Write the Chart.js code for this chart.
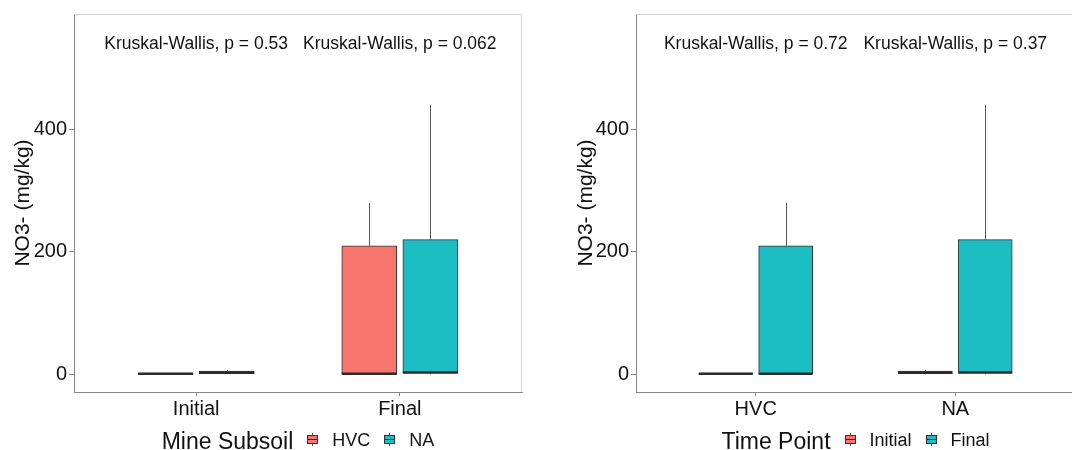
<!DOCTYPE html>
<html>
<head>
<meta charset="utf-8">
<script src="https://cdn.jsdelivr.net/npm/chart.js@4.4.0/dist/chart.umd.min.js"></script>
<style>
html, body { margin: 0; padding: 0; background: #fff; overflow: hidden; width: 1072px; height: 450px; }
#left { position: absolute; left: 0; top: 0; width: 540px; height: 450px; }
#right { position: absolute; left: 540px; top: 0; width: 560px; height: 450px; }
</style>
</head>
<body>
<div id="left"><canvas id="bySubsoil"></canvas></div>
<div id="right"><canvas id="byTime"></canvas></div>
<script>
var timePoints = ["Initial", "Final"];
var subsoils = ["HVC", "NA"];

// box stats, one value per time point (Initial, Final)
var hvcMin = [0, 0];
var hvcQ1 = [0, 0];
var hvcMedian = [1, 1];
var hvcQ3 = [2, 210];
var hvcMax = [2, 280];

var naMin = [0, 0];
var naQ1 = [1, 2];
var naMedian = [3, 3];
var naQ3 = [5, 220];
var naMax = [7, 440];

var pByTime = ["0.53", "0.062"];
var pBySubsoil = ["0.72", "0.37"];
var yTicks = [0, 200, 400];

var red = "#F8766D";
var teal = "#1CBEC4";
var font = "'Liberation Sans', Arial, sans-serif";
var textColor = "#111";

function series(label, color, xs, mins, q1s, meds, q3s, maxs) {
    return {
        label: label,
        backgroundColor: color,
        borderColor: "#333",
        borderWidth: 1,
        borderSkipped: false,
        data: xs.map(function (x, i) { return { x: x, y: [q1s[i], q3s[i]] }; }),
        mins: mins, meds: meds, q3s: q3s, q1s: q1s, maxs: maxs
    };
}

function line(ctx, x1, y1, x2, y2) {
    ctx.beginPath();
    ctx.moveTo(x1, y1);
    ctx.lineTo(x2, y2);
    ctx.stroke();
}

// whiskers, medians, panel border, p-values and the inline legend
var boxExtras = {
    id: "boxExtras",
    afterDatasetsDraw: function (chart) {
        var ctx = chart.ctx, y = chart.scales.y;
        chart.data.datasets.forEach(function (ds, di) {
            chart.getDatasetMeta(di).data.forEach(function (bar, i) {
                var x = Math.round(bar.x) + 0.5, half = bar.width / 2;
                ctx.save();
                ctx.strokeStyle = "#555";
                ctx.lineWidth = 1;
                if (ds.maxs[i] > ds.q3s[i]) line(ctx, x, y.getPixelForValue(ds.q3s[i]), x, y.getPixelForValue(ds.maxs[i]));
                if (ds.mins[i] < ds.q1s[i]) line(ctx, x, y.getPixelForValue(ds.q1s[i]), x, y.getPixelForValue(ds.mins[i]));
                ctx.strokeStyle = "#2a2a2a";
                ctx.lineWidth = 2.5;
                var ym = y.getPixelForValue(ds.meds[i]);
                line(ctx, bar.x - half, ym, bar.x + half, ym);
                ctx.restore();
            });
        });
    },
    afterDraw: function (chart, args, opts) {
        var ctx = chart.ctx, a = chart.chartArea;
        ctx.save();
        ctx.strokeStyle = "#d4d4d4";
        ctx.lineWidth = 1;
        ctx.beginPath();
        ctx.moveTo(a.left, a.top + 0.5);
        ctx.lineTo(a.right - 0.5, a.top + 0.5);
        ctx.lineTo(a.right - 0.5, a.bottom);
        ctx.stroke();

        // p-values above each group
        ctx.fillStyle = textColor;
        ctx.font = "17.5px " + font;
        ctx.textAlign = "center";
        ctx.textBaseline = "middle";
        opts.pValues.forEach(function (p, i) {
            ctx.fillText("Kruskal-Wallis, p = " + p, chart.scales.x.getPixelForValue(i + 1), chart.scales.y.getPixelForValue(539));
        });

        // legend: title then keys inline
        ctx.textAlign = "left";
        ctx.textBaseline = "alphabetic";
        ctx.font = "23px " + font;
        var titleW = ctx.measureText(opts.legendTitle).width;
        ctx.font = "18px " + font;
        var widths = opts.legendLabels.map(function (t) { return ctx.measureText(t).width; });
        var total = titleW;
        widths.forEach(function (w) { total += 14 + 10 + 15 + w; });
        var x = (a.left + a.right) / 2 - total / 2;
        ctx.font = "23px " + font;
        ctx.fillText(opts.legendTitle, x, 449);
        x += titleW;
        ctx.font = "18px " + font;
        opts.legendLabels.forEach(function (t, i) {
            x += 14;
            var kx = Math.round(x) + 0.5;
            ctx.strokeStyle = "#555";
            line(ctx, kx + 5, 433, kx + 5, 446);
            ctx.fillStyle = opts.legendColors[i];
            ctx.fillRect(kx, 435.5, 10, 8);
            ctx.strokeStyle = "#333";
            ctx.strokeRect(kx, 435.5, 10, 8);
            ctx.strokeStyle = "#2a2a2a";
            line(ctx, kx, 439.5, kx + 10, 439.5);
            x += 10 + 15;
            ctx.fillStyle = textColor;
            ctx.fillText(t, x, 446);
            x += widths[i];
        });
        ctx.restore();
    }
};

function makeChart(id, cats, datasets, opts, yWidth, titlePad, padRight, barW) {
    return new Chart(document.getElementById(id), {
        type: "bar",
        data: { datasets: datasets },
        plugins: [boxExtras],
        options: {
            responsive: true,
            maintainAspectRatio: false,
            animation: false,
            layout: { padding: { top: 13, right: padRight, left: 0, bottom: 0 } },
            datasets: { bar: { grouped: false, barThickness: barW } },
            plugins: {
                legend: { display: false },
                tooltip: { enabled: false },
                boxExtras: opts
            },
            scales: {
                x: {
                    type: "linear",
                    min: 0.4,
                    max: 2.6,
                    offset: false,
                    afterBuildTicks: function (s) { s.ticks = [{ value: 1 }, { value: 2 }]; },
                    afterFit: function (s) { s.height = 58; },
                    ticks: {
                        callback: function (v) { return cats[Math.round(v) - 1]; },
                        font: { family: font, size: 20 },
                        color: textColor,
                        padding: 1,
                        maxRotation: 0,
                        autoSkip: false
                    },
                    grid: { drawOnChartArea: false, offset: false, tickLength: 4, color: "#888" },
                    border: { color: "#888" }
                },
                y: {
                    min: -29,
                    max: 589,
                    afterBuildTicks: function (s) { s.ticks = yTicks.map(function (v) { return { value: v }; }); },
                    afterFit: function (s) { s.width = yWidth; },
                    ticks: { font: { family: font, size: 20 }, color: textColor, padding: 2 },
                    grid: { drawOnChartArea: false, tickLength: 5, color: "#888" },
                    border: { color: "#888" },
                    title: {
                        display: true,
                        text: "NO3- (mg/kg)",
                        font: { family: font, size: 21 },
                        color: textColor,
                        padding: { top: titlePad, bottom: 0 }
                    }
                }
            }
        }
    });
}

// left: grouped by time point, coloured by mine subsoil
makeChart("bySubsoil", timePoints, [
    series("HVC", red, [0.85, 1.85], hvcMin, hvcQ1, hvcMedian, hvcQ3, hvcMax),
    series("NA", teal, [1.15, 2.15], naMin, naQ1, naMedian, naQ3, naMax)
], { pValues: pByTime, legendTitle: "Mine Subsoil", legendLabels: subsoils, legendColors: [red, teal] }, 74, 11, 18, 55);

// right: grouped by mine subsoil, coloured by time point
function pick(arrA, arrB, k) { return [arrA[k], arrB[k]]; }
makeChart("byTime", subsoils, [
    series("Initial", red, [0.85, 1.85], pick(hvcMin, naMin, 0), pick(hvcQ1, naQ1, 0), pick(hvcMedian, naMedian, 0), pick(hvcQ3, naQ3, 0), pick(hvcMax, naMax, 0)),
    series("Final", teal, [1.15, 2.15], pick(hvcMin, naMin, 1), pick(hvcQ1, naQ1, 1), pick(hvcMedian, naMedian, 1), pick(hvcQ3, naQ3, 1), pick(hvcMax, naMax, 1))
], { pValues: pBySubsoil, legendTitle: "Time Point", legendLabels: timePoints, legendColors: [red, teal] }, 96, 34, 25, 54);
</script>
</body>
</html>
